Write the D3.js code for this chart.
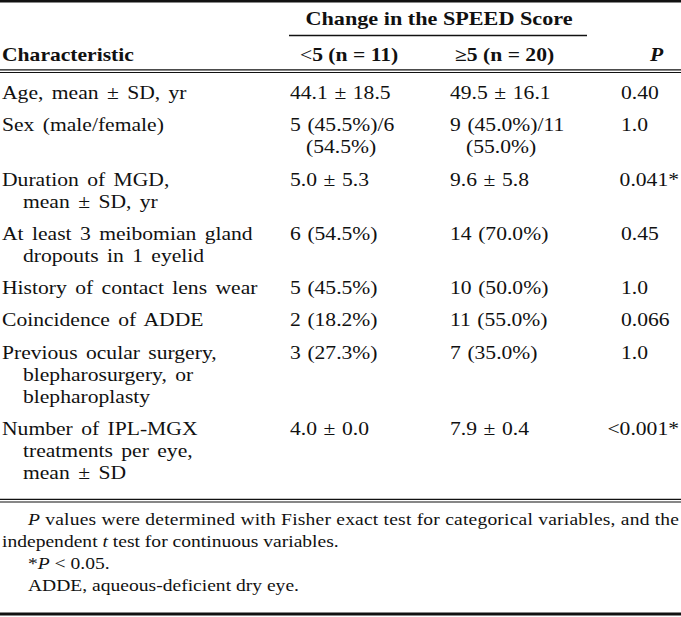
<!DOCTYPE html>
<html><head><meta charset="utf-8">
<script src="https://cdn.jsdelivr.net/npm/d3@7"></script>
<style>html,body{margin:0;padding:0;background:#fff;}svg{display:block;}</style>
</head><body>
<script>
// ---- data ----
const spanner = "Change in the SPEED Score";
const headers = ["Characteristic", "<5 (n = 11)", "≥5 (n = 20)", "P"];
const characteristics = [
  ["Age, mean ± SD, yr"],
  ["Sex (male/female)"],
  ["Duration of MGD,", "mean ± SD, yr"],
  ["At least 3 meibomian gland", "dropouts in 1 eyelid"],
  ["History of contact lens wear"],
  ["Coincidence of ADDE"],
  ["Previous ocular surgery,", "blepharosurgery, or", "blepharoplasty"],
  ["Number of IPL-MGX", "treatments per eye,", "mean ± SD"]
];
const lt5 = [
  ["44.1 ± 18.5"], ["5 (45.5%)/6", "(54.5%)"], ["5.0 ± 5.3"], ["6 (54.5%)"],
  ["5 (45.5%)"], ["2 (18.2%)"], ["3 (27.3%)"], ["4.0 ± 0.0"]
];
const ge5 = [
  ["49.5 ± 16.1"], ["9 (45.0%)/11", "(55.0%)"], ["9.6 ± 5.8"], ["14 (70.0%)"],
  ["10 (50.0%)"], ["11 (55.0%)"], ["7 (35.0%)"], ["7.9 ± 0.4"]
];
const pValues = ["0.40", "1.0", "0.041*", "0.45", "1.0", "0.066", "1.0", "<0.001*"];
const footnotes = [
  [{t:"P", i:true}, {t:" values were determined with Fisher exact test for categorical variables, and the"}],
  [{t:"independent "}, {t:"t", i:true}, {t:" test for continuous variables."}],
  [{t:"*"}, {t:"P", i:true}, {t:" < 0.05."}],
  [{t:"ADDE, aqueous-deficient dry eye."}]
];

// ---- layout ----
const W = 681, H = 617;
const sx = 1.2;            // horizontal stretch of the typeset font
const FONT = "'Liberation Serif','Times New Roman',serif";
const LH = 22, GAP = 32.3, FIRST = 99;

const svg = d3.select("body").append("svg").attr("width", W).attr("height", H);
const g = svg.append("g").attr("transform", `scale(${sx},1)`);

const colX = d3.scaleOrdinal().domain(["char", "lt5", "ge5", "p"]).range([2, 290, 450, 621]);
const indent = {char: 21, lt5: 16, ge5: 16, p: 0};
const wordSp = {char: 2.5, lt5: 1, ge5: 1};

// row baselines
const nLines = characteristics.map((c, i) => Math.max(c.length, lt5[i].length, ge5[i].length));
const rowY = [];
nLines.reduce((y, n, i) => { rowY.push(y); return y + (n - 1) * LH + GAP; }, FIRST);
const lineY = d3.scaleLinear().domain([0, 1]).range([0, LH]);

function text(x, y, size, weight) {
  return g.append("text").attr("x", x / sx).attr("y", y)
    .attr("font-family", FONT).attr("font-size", size)
    .attr("font-weight", weight || "normal").attr("fill", "#111");
}
function rule(y, w) {
  svg.append("line").attr("x1", 0).attr("x2", W).attr("y1", y).attr("y2", y)
    .attr("stroke", "#111").attr("stroke-width", w);
}

// rules
rule(1.3, 2.6);
rule(69.8, 1.2); rule(72.5, 1.2);
rule(499.3, 1.2); rule(502, 1.2);
rule(614, 2.8);
svg.append("line").attr("x1", 289).attr("x2", 587).attr("y1", 35.5).attr("y2", 35.5)
  .attr("stroke", "#111").attr("stroke-width", 1.3);

// header
text(439, 25, 18.5, "bold").attr("text-anchor", "middle").text(spanner);
text(colX("char"), 61, 18, "bold").text(headers[0]);
const h1 = text(300, 61, 18, "bold");
h1.append("tspan").attr("font-weight", "normal").text(headers[1][0]);
h1.append("tspan").text(headers[1].slice(1));
text(455, 61, 18, "bold").text(headers[2]);
text(650, 61, 18, "bold").attr("font-style", "italic").text(headers[3]);

// body cells
const cols = [["char", characteristics], ["lt5", lt5], ["ge5", ge5]];
cols.forEach(([key, arr]) => {
  arr.forEach((lines, r) => {
    lines.forEach((s, li) => {
      text(colX(key) + (li > 0 ? indent[key] : 0), rowY[r] + lineY(li), 18)
        .attr("word-spacing", wordSp[key]).text(s);
    });
  });
});
pValues.forEach((s, r) => {
  const t = text(colX("p"), rowY[r], 18).text(s);
  const w = t.node().getComputedTextLength() * sx;
  const x = Math.min(colX("p"), 679 - w);
  t.attr("x", x / sx);
});

// footnotes
const footX = [28, 2, 28, 28];
footnotes.forEach((parts, i) => {
  const t = text(footX[i], 525 + i * LH, 16.3);
  parts.forEach(p => {
    const ts = t.append("tspan").text(p.t);
    if (p.i) ts.attr("font-style", "italic");
  });
  if (i === 0) {
    t.attr("textLength", (679 - footX[i]) / sx).attr("lengthAdjust", "spacing");
  }
});
</script>
</body></html>
